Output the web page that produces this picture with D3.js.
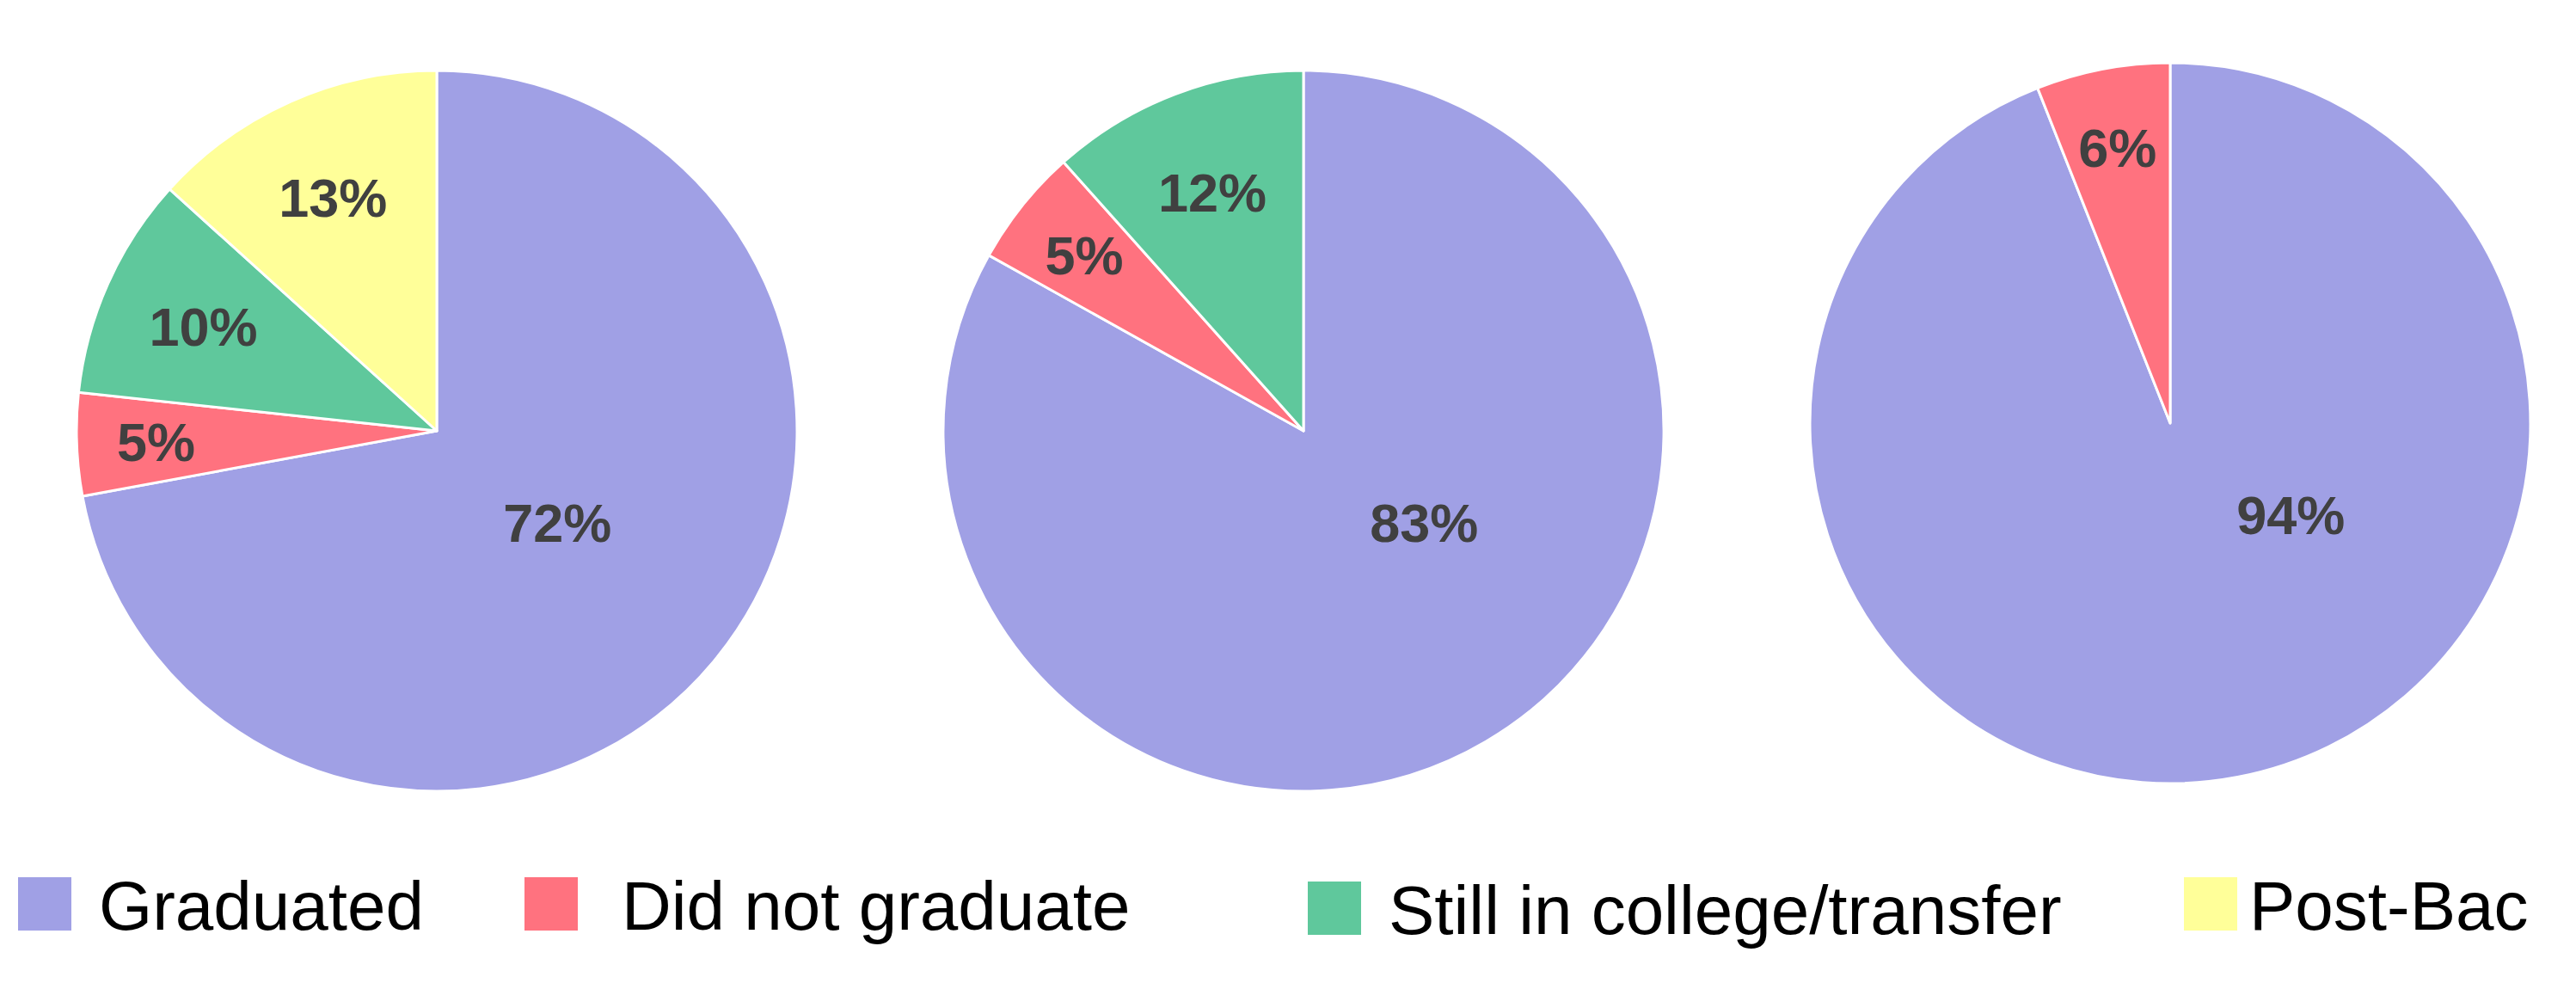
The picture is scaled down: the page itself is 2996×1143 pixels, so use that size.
<!DOCTYPE html>
<html>
<head>
<meta charset="utf-8">
<script src="https://cdn.jsdelivr.net/npm/d3@7"></script>
<style>
  body { margin: 0; background: #fff; }
  svg { display: block; font-family: "Liberation Sans", Arial, sans-serif; }
</style>
</head>
<body>
<div id="chart"></div>
<script>
// categories in clockwise order starting at 12 o'clock
const categories = ["Graduated", "Did not graduate", "Still in college/transfer", "Post-Bac"];
const colors = ["#a0a0e5", "#ff727f", "#5fc89c", "#ffff99"];

// one array of shares (%) per pie, left to right
const pieLeft = [72.1, 4.6, 10.0, 13.3];
const pieMiddle = [83.1, 5.3, 11.6, 0];
const pieRight = [94.0, 6.0, 0, 0];

const width = 2996, height = 1143;
const radius = 419;
const centers = [[508, 501], [1516, 501], [2524, 492]];
// legend item x positions and text gaps (layout only)
const legendX = [21, 610, 1521, 2540];
const legendGap = [32, 51, 32, 14];
const legendY = [1020, 1020, 1025, 1020];

const svg = d3.select("#chart").append("svg")
    .attr("width", width)
    .attr("height", height);

const color = d3.scaleOrdinal().domain(categories).range(colors);

const pie = d3.pie()
    .sort(null)
    .value(d => d.value);

const arc = d3.arc().innerRadius(0).outerRadius(radius);

[pieLeft, pieMiddle, pieRight].forEach((values, i) => {
  const data = categories.map((c, j) => ({ cat: c, value: values[j] }));
  const arcs = pie(data).filter(d => d.data.value > 0);

  const g = svg.append("g")
      .attr("transform", `translate(${centers[i][0]},${centers[i][1]})`);

  g.selectAll("path")
    .data(arcs)
    .join("path")
      .attr("d", arc)
      .attr("fill", d => color(d.data.cat))
      .attr("stroke", "#fff")
      .attr("stroke-width", 3)
      .attr("stroke-linejoin", "round");

  // big slice label sits lower-right of centre, small ones near the rim
  g.selectAll("text")
    .data(arcs)
    .join("text")
      .attr("transform", d => {
        const v = d.data.value;
        const big = v > 50;
        const a = big ? 2.22 : (d.startAngle + d.endAngle) / 2;
        const r = radius * (big ? 0.42 : v < 8 ? 0.78 : 0.71);
        return `translate(${Math.sin(a) * r},${-Math.cos(a) * r})`;
      })
      .attr("text-anchor", "middle")
      .attr("dy", "0.36em")
      .attr("font-size", 63)
      .attr("font-weight", "bold")
      .attr("fill", "#404040")
      .text(d => Math.round(d.data.value) + "%");
});

// legend
const legend = svg.selectAll(".legend")
  .data(categories)
  .join("g")
    .attr("class", "legend")
    .attr("transform", (d, i) => `translate(${legendX[i]},${legendY[i]})`);

legend.append("rect")
    .attr("width", 62)
    .attr("height", 62)
    .attr("fill", d => color(d));

legend.append("text")
    .attr("x", (d, i) => 62 + legendGap[i])
    .attr("y", 61)
    .attr("font-size", 80)
    .attr("fill", "#000")
    .text(d => d);
</script>
</body>
</html>
